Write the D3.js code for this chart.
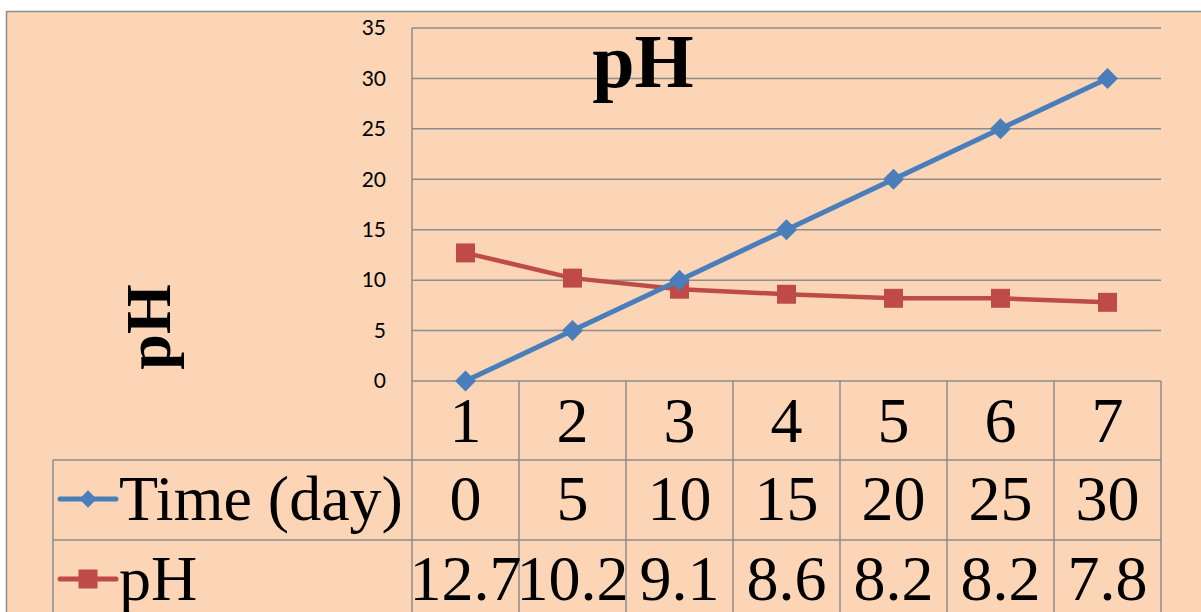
<!DOCTYPE html>
<html>
<head>
<meta charset="utf-8">
<script src="https://cdn.jsdelivr.net/npm/d3@7"></script>
<style>
  html, body { margin: 0; padding: 0; background: #ffffff; }
  svg { display: block; }
</style>
</head>
<body>
<svg id="chart" width="1201" height="612"></svg>
<script>
// Chart data
const categories = [1, 2, 3, 4, 5, 6, 7];
const timeDays = [0, 5, 10, 15, 20, 25, 30];
const phValues = [12.7, 10.2, 9.1, 8.6, 8.2, 8.2, 7.8];
const yTicks = [0, 5, 10, 15, 20, 25, 30, 35];
const seriesNames = ["Time (day)", "pH"];
const chartTitle = "pH";
const yTitle = "pH";

const W = 1201, H = 612;
const bg = "#fbd5b5";
const gridColor = "#8d8d8d";
const blue = "#4a7ebb";
const red = "#be4b48";

const plot = { left: 412, right: 1161, top: 28, bottom: 381 };
const table = { left: 53, row1: 460, row2: 540, bottom: 640 };

const svg = d3.select("#chart");

// Chart area with its outer border
svg.append("rect")
  .attr("x", 6.5).attr("y", 11.5)
  .attr("width", W + 20).attr("height", H + 20)
  .attr("fill", bg).attr("stroke", gridColor).attr("stroke-width", 1.5);

const x = d3.scaleBand().domain(categories).range([plot.left, plot.right]).padding(0);
const y = d3.scaleLinear().domain([0, 35]).range([plot.bottom, plot.top]);

// Horizontal gridlines
svg.append("g").selectAll("line").data(yTicks).join("line")
  .attr("x1", plot.left).attr("x2", plot.right)
  .attr("y1", d => y(d)).attr("y2", d => y(d))
  .attr("stroke", gridColor).attr("stroke-width", 1.5);

// Value axis labels
const yAxis = d3.axisLeft(y).tickValues(yTicks).tickSize(0).tickPadding(26);
const yg = svg.append("g").attr("transform", `translate(${plot.left},0)`).call(yAxis);
yg.select(".domain").remove();
yg.selectAll("text")
  .attr("font-family", "Lato, 'Open Sans', sans-serif")
  .attr("font-size", 21)
  .attr("fill", "#000");

// Data table grid lines
const g = svg.append("g").attr("stroke", gridColor).attr("stroke-width", 1.5);
g.append("line").attr("x1", plot.left).attr("x2", plot.left).attr("y1", plot.top).attr("y2", table.bottom);
x.domain().forEach(c => {
  const xr = x(c) + x.bandwidth();
  g.append("line").attr("x1", xr).attr("x2", xr).attr("y1", plot.bottom).attr("y2", table.bottom);
});
g.append("line").attr("x1", table.left).attr("x2", table.left).attr("y1", table.row1).attr("y2", table.bottom);
[table.row1, table.row2].forEach(ry => {
  g.append("line").attr("x1", table.left).attr("x2", plot.right).attr("y1", ry).attr("y2", ry);
});

// Data table text
const serif = "'Liberation Serif', 'Times New Roman', serif";
const tableFont = 64;
const cx = c => x(c) + x.bandwidth() / 2;
svg.append("g").selectAll("text").data(categories).join("text")
  .attr("x", d => cx(d)).attr("y", 442)
  .attr("text-anchor", "middle").attr("font-family", serif).attr("font-size", tableFont)
  .text(d => d);
svg.append("g").selectAll("text").data(timeDays).join("text")
  .attr("x", (d, i) => cx(categories[i])).attr("y", 520)
  .attr("text-anchor", "middle").attr("font-family", serif).attr("font-size", tableFont)
  .text(d => d);
svg.append("g").selectAll("text").data(phValues).join("text")
  .attr("x", (d, i) => cx(categories[i])).attr("y", 600)
  .attr("text-anchor", "middle").attr("font-family", serif).attr("font-size", tableFont)
  .text(d => d.toFixed(1));

// Legend keys inside the table
const diamond = d3.symbol(d3.symbolSquare, 220);
const square = d3.symbol(d3.symbolSquare, 360);
const legendY = [499, 579];
svg.append("line").attr("x1", 60).attr("x2", 116).attr("y1", legendY[0]).attr("y2", legendY[0])
  .attr("stroke", blue).attr("stroke-width", 5).attr("stroke-linecap", "round");
svg.append("path").attr("d", d3.symbol(d3.symbolSquare, 150)())
  .attr("transform", `translate(88,${legendY[0]}) rotate(45)`).attr("fill", blue);
svg.append("line").attr("x1", 60).attr("x2", 116).attr("y1", legendY[1]).attr("y2", legendY[1])
  .attr("stroke", red).attr("stroke-width", 5).attr("stroke-linecap", "round");
svg.append("path").attr("d", square())
  .attr("transform", `translate(88,${legendY[1]})`).attr("fill", red);
svg.append("text").attr("x", 119).attr("y", 520).attr("font-family", serif).attr("font-size", tableFont).text(seriesNames[0]);
svg.append("text").attr("x", 119).attr("y", 600).attr("font-family", serif).attr("font-size", tableFont).text(seriesNames[1]);

// Series lines and markers
const line = d3.line().x((d, i) => cx(categories[i])).y(d => y(d));
svg.append("path").datum(phValues).attr("d", line)
  .attr("fill", "none").attr("stroke", red).attr("stroke-width", 4.5).attr("stroke-linejoin", "round");
svg.append("g").selectAll("path").data(phValues).join("path")
  .attr("d", square())
  .attr("transform", (d, i) => `translate(${cx(categories[i])},${y(d)})`)
  .attr("fill", red);
svg.append("path").datum(timeDays).attr("d", line)
  .attr("fill", "none").attr("stroke", blue).attr("stroke-width", 5).attr("stroke-linejoin", "round");
svg.append("g").selectAll("path").data(timeDays).join("path")
  .attr("d", diamond())
  .attr("transform", (d, i) => `translate(${cx(categories[i])},${y(d)}) rotate(45)`)
  .attr("fill", blue);

// Titles
svg.append("text").attr("x", 643).attr("y", 87).attr("text-anchor", "middle")
  .attr("font-family", serif).attr("font-weight", "bold").attr("font-size", 76).text(chartTitle);
svg.append("text").attr("transform", "translate(170,327) rotate(-90)").attr("text-anchor", "middle")
  .attr("font-family", serif).attr("font-weight", "bold").attr("font-size", 64).text(yTitle);
</script>
</body>
</html>
